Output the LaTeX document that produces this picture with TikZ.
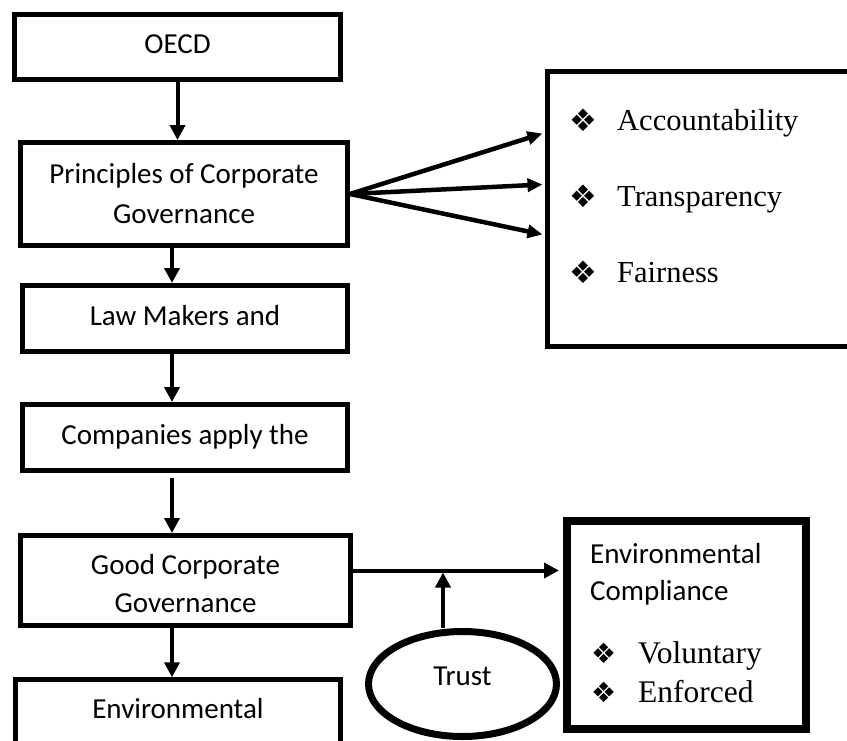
\documentclass[tikz,border=0pt]{standalone}
\usepackage{fontspec}
\setmainfont{Carlito}
\newfontfamily\serifface{Liberation Serif}
\newfontfamily\dingface{DejaVu Sans}
\usetikzlibrary{arrows.meta,shapes.geometric,calc}

\begin{document}
\begin{tikzpicture}[x=1pt,y=-1pt,
  box/.style={draw, line width=5pt, rectangle, inner sep=0pt,
    font=\fontsize{29}{38}\selectfont, align=center},
  oneline/.style={text height=20pt, text depth=7pt},
  arr/.style={line width=4pt, -{Triangle[length=15pt,width=15pt]}},
  fanarr/.style={line width=4.5pt, -{Triangle[length=15pt,width=13pt]}},
  bul/.style={anchor=base west, inner sep=0pt},
  item/.style={anchor=base west, inner sep=0pt,
    font=\serifface\fontsize{30.5}{36}\selectfont},
  lbl/.style={anchor=base west, inner sep=0pt,
    font=\fontsize{29}{36}\selectfont}
]
\useasboundingbox (0,0) rectangle (847,740);
\clip (0,0) rectangle (847,740);

% main column
\node[box, oneline, minimum width=326pt, minimum height=65pt] (oecd) at (177.5,47) {OECD};
\node[box, font=\fontsize{29}{40}\selectfont, minimum width=327pt, minimum height=103pt]
  (prin) at (184,194) {Principles of Corporate\\Governance};
\node[box, oneline, minimum width=325pt, minimum height=66pt] (law) at (185,318.5) {Law Makers and};
\node[box, oneline, minimum width=325pt, minimum height=66pt] (comp) at (185,437.5) {Companies apply the};
\node[box, minimum width=330pt, minimum height=90pt] (good) at (185.5,580.5) {\strut Good Corporate\\Governance};
\node[box, text height=20pt, text depth=43.5pt, minimum width=325pt, minimum height=100pt]
  (envb) at (178,729.75) {Environmental};

% principles list
\node[draw, line width=5pt, rectangle, inner sep=0pt, minimum width=353pt, minimum height=275pt]
  (crit) at (723.5,208.5) {};
\node[bul, font=\dingface\fontsize{31}{34}\selectfont] (b1) at (569,131) {❖};
\node[item] (acc) at (617,130.7) {Accountability};
\node[bul, font=\dingface\fontsize{31}{34}\selectfont] (b2) at (569,207) {❖};
\node[item] (tra) at (617,206.7) {Transparency};
\node[bul, font=\dingface\fontsize{31}{34}\selectfont] (b3) at (569,283) {❖};
\node[item] (fai) at (617,282.7) {Fairness};

% compliance box
\node[draw, line width=8pt, rectangle, inner sep=0pt, minimum width=239pt, minimum height=208pt]
  (ecomp) at (686.5,625) {};
\node[lbl] (ec1) at (590,563) {Environmental};
\node[lbl] (ec2) at (590,600) {Compliance};
\node[bul, font=\dingface\fontsize{28}{30}\selectfont] (b4) at (591,663) {❖};
\node[item, font=\serifface\fontsize{31.5}{36}\selectfont] (vol) at (638,663) {Voluntary};
\node[bul, font=\dingface\fontsize{28}{30}\selectfont] (b5) at (591,702) {❖};
\node[item, font=\serifface\fontsize{31.5}{36}\selectfont] (enf) at (638,702) {Enforced};

% trust
\node[draw, ellipse, line width=7pt, inner sep=0pt, minimum width=188pt, minimum height=105pt,
  font=\fontsize{29}{36}\selectfont, text height=20pt, text depth=18pt] (trust) at (462.5,684) {Trust};

% connectors
\draw[arr] (oecd.south) -- (oecd.south |- prin.north);
\draw[arr] ([xshift=-12pt]prin.south) -- ([xshift=-12pt]prin.south |- law.north);
\draw[arr] ([xshift=-13pt]law.south) -- ([xshift=-13pt]law.south |- comp.north);
\draw[arr, shorten <=5pt] ([xshift=-13pt]comp.south) -- ([xshift=-13pt]comp.south |- good.north);
\draw[arr] ([xshift=-13.5pt]good.south) -- ([xshift=-13.5pt]good.south |- envb.north);

\draw[fanarr] (prin.east) -- ($(crit.north west)+(-2,65)$);
\draw[fanarr] (prin.east) -- ($(crit.north west)+(-2,116)$);
\draw[fanarr] (prin.east) -- ($(crit.north west)+(-2,166)$);

\coordinate (j) at ([yshift=10pt]good.east);
\draw[arr, shorten >=4pt] (j) -- (j -| ecomp.west);
\draw[arr, shorten >=2pt] ([xshift=-19.5pt]trust.north) -- ([xshift=-19.5pt]trust.north |- j);
\end{tikzpicture}
\end{document}
